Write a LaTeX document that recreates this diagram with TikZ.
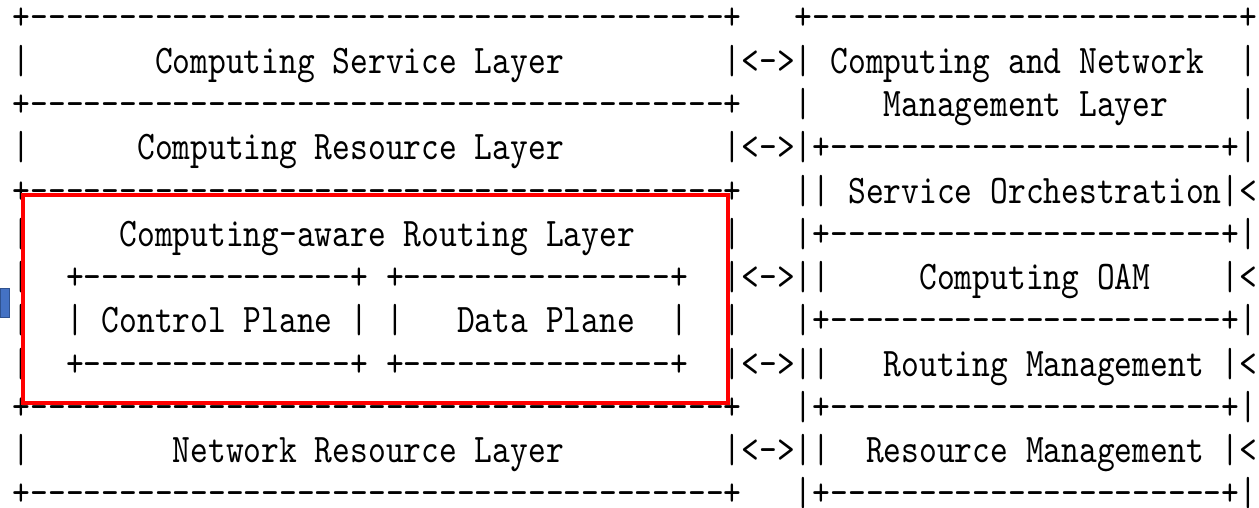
\documentclass[tikz,border=0pt]{standalone}
\usepackage{fontspec}
\setmonofont{lmmono10-regular.otf}
\usepackage{graphicx}
\ExplSyntaxOn
\cs_new:Npn \myrp #1#2 { \prg_replicate:nn {#1} {#2} }
\ExplSyntaxOff
\newcommand\Sp[1]{\myrp{#1}{~}}
\newcommand\Da[1]{\myrp{#1}{-}}
\newcommand\Lb{+\Da{39}+}
\newcommand\Rb{+\Da{24}+}
\newcommand\Ri{|+\Da{22}+|}
\newcommand\Ib{+\Da{15}+}
\newcommand\afont{\ttfamily\fontsize{16.93}{20}\selectfont}
\definecolor{hlred}{HTML}{FF0000}
\definecolor{tabblue}{HTML}{4472C4}
\definecolor{tabblueedge}{HTML}{2F528F}
\tikzset{
  rowtxt/.style={anchor=base west, inner sep=0pt, outer sep=0pt, text depth=0pt, font=\afont},
  hlbox/.style={draw=hlred, line width=2.25pt},
  tabmark/.style={fill=tabblue, draw=tabblueedge, line width=0.5pt}
}
\newcommand\rowat[3]{\node[rowtxt] (#1) at (12.8,{17+43.27*#2+13}) {\scalebox{1}[1.2]{#3}};}
\begin{document}
\begin{tikzpicture}[x=0.5pt,y=-0.5pt]
\useasboundingbox (0,0) rectangle (1259,508);
\rowat{r0}{0}{\Lb\Sp{3}\Rb}
\rowat{r1}{1}{|\Sp{7}Computing~Service~Layer\Sp{9}|<->|\Sp{1}Computing~and~Network\Sp{2}|}
\rowat{r2}{2}{\Lb\Sp{3}|\Sp{4}Management~Layer\Sp{4}|}
\rowat{r3}{3}{|\Sp{6}Computing~Resource~Layer\Sp{9}|<->\Ri}
\rowat{r4}{4}{\Lb\Sp{3}||\Sp{1}Service~Orchestration|<}
\rowat{r5}{5}{|\Sp{5}Computing-aware~Routing~Layer\Sp{5}|\Sp{3}\Ri}
\rowat{r6}{6}{|\Sp{2}\Ib\Sp{1}\Ib\Sp{2}|<->||\Sp{5}Computing~OAM\Sp{4}|<}
\rowat{r7}{7}{|\Sp{2}|\Sp{1}Control~Plane\Sp{1}|\Sp{1}|\Sp{3}Data~Plane\Sp{2}|\Sp{2}|\Sp{3}\Ri}
\rowat{r8}{8}{|\Sp{2}\Ib\Sp{1}\Ib\Sp{2}|<->||\Sp{3}Routing~Management\Sp{1}|<}
\rowat{r9}{9}{\Lb\Sp{3}\Ri}
\rowat{r10}{10}{|\Sp{8}Network~Resource~Layer\Sp{9}|<->||\Sp{2}Resource~Management\Sp{1}|<}
\rowat{r11}{11}{\Lb\Sp{3}\Ri}
\draw[hlbox] (23,195) rectangle (728,403);
\draw[tabmark] (0,288) rectangle (9,317);
\end{tikzpicture}
\end{document}
